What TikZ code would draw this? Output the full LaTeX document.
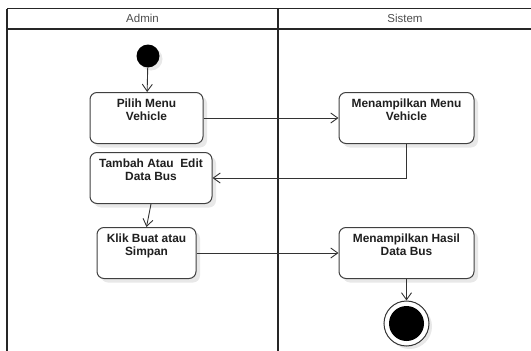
\documentclass[tikz,border=0pt]{standalone}
\usepackage{fontspec}
\setmainfont{Liberation Sans}
\usetikzlibrary{arrows.meta,shadows}
\begin{document}
\begin{tikzpicture}[x=1pt,y=-1pt,
  lane/.style={line width=1.4pt,draw=black!85},
  lanetitle/.style={font=\fontsize{11.5}{12}\selectfont,text=black!70},
  act/.style={draw=black!75,line width=1pt,rounded corners=7pt,fill=white,
    anchor=north,align=center,inner xsep=2pt,inner ysep=4pt,
    text height=23.5pt,text depth=19.5pt,
    font=\bfseries\fontsize{11.9}{12.5}\selectfont,text=black!88,
    drop shadow={shadow xshift=4pt,shadow yshift=-4pt,fill=black,opacity=0.09}},
  flow/.style={draw=black!80,line width=0.9pt,-{Straight Barb[length=7pt,width=10pt]}},
  initnode/.style={circle,fill=black,inner sep=0pt,minimum size=23pt,
    drop shadow={shadow xshift=3pt,shadow yshift=-3pt,fill=black,opacity=0.09}},
  finalnode/.style={circle,draw=black!80,line width=1pt,fill=white,inner sep=0pt,minimum size=45pt,
    path picture={\fill[black] (path picture bounding box.center) circle (17.5pt);},
    drop shadow={shadow xshift=3pt,shadow yshift=-3pt,fill=black,opacity=0.09}}
]
\useasboundingbox (0,0) rectangle (531,351);

% swimlane frame
\coordinate (tl) at (7,8.5);
\coordinate (tr) at (532,8.5);
\coordinate (hl) at (7,29);
\coordinate (hr) at (532,29);
\coordinate (bl) at (7,352);
\coordinate (dt) at (278,8.5);
\coordinate (db) at (278,352);
\draw[lane] (tl) -- (tr);
\draw[lane] (hl) -- (hr);
\draw[lane] (tl) -- (bl);
\draw[lane] (dt) -- (db);
\node[lanetitle] (admin) at (142.5,18.5) {Admin};
\node[lanetitle] (sistem) at (405,18.5) {Sistem};

% activities
\node[initnode] (start) at (148,56) {};
\node[act,minimum width=113pt] (pilih) at (146.5,92) {Pilih Menu\\Vehicle};
\node[act,minimum width=135pt] (tampilmenu) at (406.5,92) {Menampilkan Menu\\Vehicle};
\node[act,minimum width=122pt] (tambah) at (151,152) {Tambah Atau\ \ Edit\\Data Bus};
\node[act,minimum width=99pt] (klik) at (146.5,227) {Klik Buat atau\\Simpan};
\node[act,minimum width=135pt] (hasil) at (406.5,227) {Menampilkan Hasil\\Data Bus};
\node[finalnode] (end) at (406.5,323.5) {};

% control flow
\draw[flow] (start) -- (pilih);
\draw[flow] (pilih.east) -- (tampilmenu.west);
\draw[flow] (tampilmenu.south) |- (tambah.east);
\draw[flow] (tambah.south) -- (klik.north);
\draw[flow] (klik.east) -- (hasil.west);
\draw[flow] (hasil.south) -- (end.north);
\end{tikzpicture}
\end{document}
